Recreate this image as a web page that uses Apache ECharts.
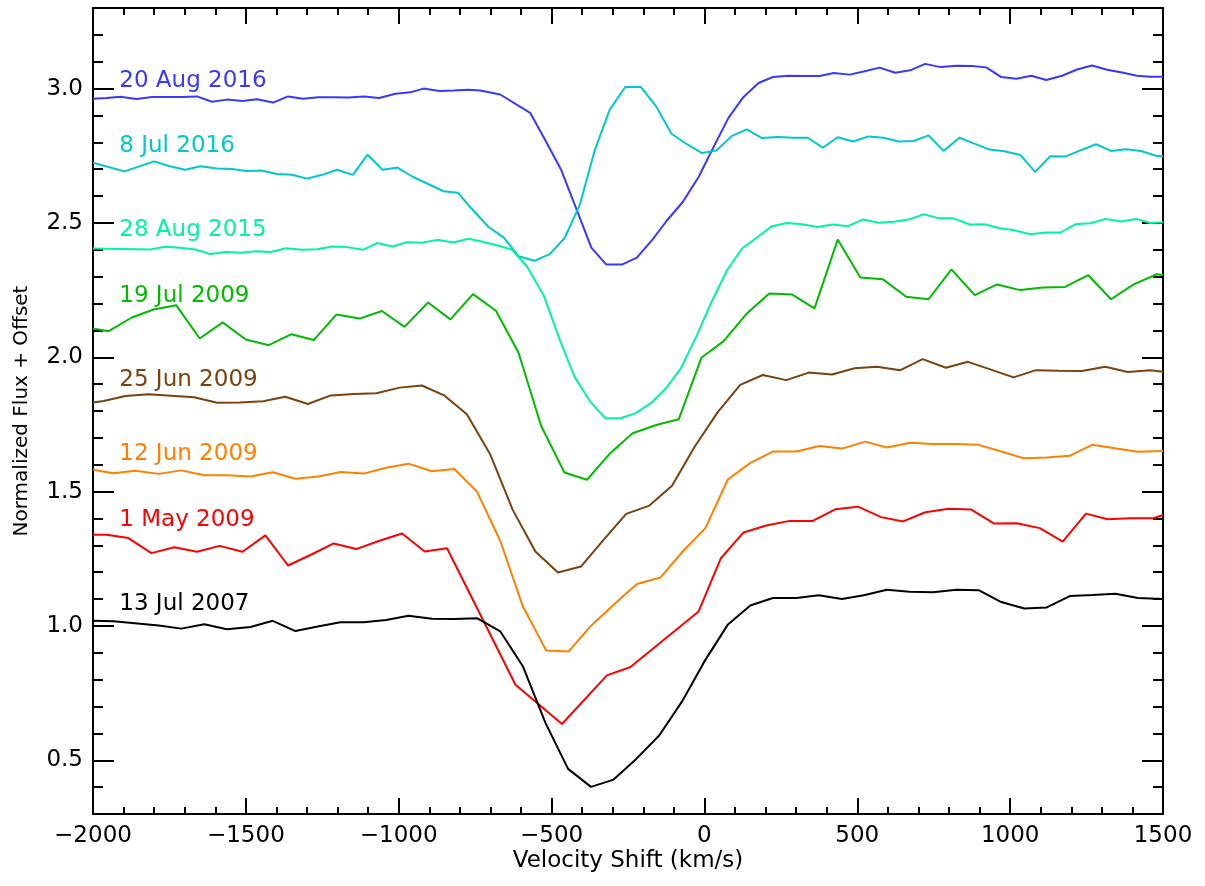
<!DOCTYPE html>
<html>
<head>
<meta charset="utf-8">
<title>Velocity Shift</title>
<script src="https://cdn.jsdelivr.net/npm/echarts@6.0.0/dist/echarts.min.js"></script>
<style>
html, body { margin: 0; padding: 0; background: #fff; }
#main { width: 1205px; height: 886px; }
</style>
</head>
<body>
<div id="main"></div>
<script>
// spectra: [velocity (km/s), normalized flux + offset]
var aug2016 = [[-2000,2.962],[-1956,2.965],[-1911,2.970],[-1858,2.961],[-1807,2.969],[-1758,2.969],[-1709,2.969],[-1660,2.971],[-1611,2.951],[-1562,2.959],[-1511,2.954],[-1464,2.960],[-1411,2.948],[-1362,2.971],[-1313,2.962],[-1264,2.968],[-1213,2.968],[-1164,2.967],[-1113,2.971],[-1064,2.965],[-1011,2.981],[-962,2.986],[-919,3.000],[-866,2.991],[-820,2.993],[-771,2.996],[-733,2.993],[-668,2.978],[-570,2.910],[-520,2.807],[-468,2.696],[-417,2.547],[-370,2.408],[-321,2.345],[-270,2.345],[-221,2.371],[-170,2.438],[-122,2.510],[-71,2.578],[-19,2.671],[30,2.783],[79,2.892],[128,2.969],[177,3.021],[224,3.043],[275,3.048],[325,3.047],[377,3.047],[423,3.058],[475,3.052],[521,3.064],[573,3.078],[624,3.059],[673,3.068],[722,3.092],[772,3.080],[826,3.085],[875,3.084],[922,3.079],[971,3.043],[1020,3.037],[1069,3.048],[1118,3.032],[1170,3.048],[1219,3.071],[1268,3.086],[1317,3.070],[1366,3.060],[1415,3.048],[1459,3.044],[1500,3.044]];

var jul2016 = [[-2000,2.724],[-1897,2.692],[-1800,2.729],[-1749,2.711],[-1698,2.698],[-1649,2.711],[-1594,2.703],[-1545,2.701],[-1499,2.693],[-1449,2.695],[-1398,2.682],[-1349,2.679],[-1300,2.665],[-1251,2.679],[-1202,2.698],[-1150,2.679],[-1102,2.754],[-1053,2.698],[-1004,2.706],[-953,2.671],[-902,2.644],[-853,2.618],[-806,2.612],[-771,2.565],[-706,2.485],[-657,2.446],[-608,2.376],[-556,2.359],[-506,2.384],[-457,2.444],[-408,2.566],[-359,2.770],[-310,2.921],[-259,3.006],[-208,3.006],[-158,2.934],[-108,2.832],[-57,2.793],[-8,2.760],[39,2.770],[90,2.824],[139,2.848],[188,2.816],[240,2.820],[289,2.817],[338,2.817],[387,2.780],[436,2.819],[486,2.803],[537,2.822],[586,2.817],[635,2.803],[684,2.805],[733,2.826],[782,2.768],[834,2.817],[883,2.795],[933,2.773],[981,2.767],[1033,2.753],[1082,2.690],[1131,2.748],[1180,2.747],[1230,2.770],[1281,2.793],[1330,2.768],[1379,2.774],[1428,2.768],[1480,2.749],[1500,2.749]];

var aug2015 = [[-2000,2.405],[-1813,2.401],[-1763,2.411],[-1714,2.408],[-1665,2.401],[-1616,2.384],[-1565,2.392],[-1518,2.389],[-1467,2.395],[-1418,2.392],[-1368,2.406],[-1316,2.400],[-1267,2.402],[-1218,2.412],[-1169,2.410],[-1117,2.400],[-1071,2.425],[-1020,2.412],[-973,2.428],[-924,2.426],[-873,2.437],[-822,2.427],[-771,2.441],[-733,2.432],[-679,2.417],[-630,2.401],[-580,2.337],[-526,2.231],[-475,2.070],[-425,1.928],[-375,1.837],[-324,1.773],[-275,1.773],[-226,1.791],[-175,1.829],[-126,1.884],[-77,1.959],[-27,2.076],[22,2.203],[74,2.324],[123,2.405],[172,2.446],[221,2.488],[270,2.500],[319,2.495],[370,2.485],[419,2.494],[470,2.488],[519,2.513],[570,2.501],[619,2.504],[668,2.513],[717,2.532],[769,2.517],[815,2.517],[868,2.494],[916,2.495],[966,2.480],[1014,2.473],[1066,2.458],[1115,2.464],[1164,2.464],[1213,2.495],[1262,2.499],[1313,2.515],[1363,2.505],[1412,2.515],[1459,2.500],[1500,2.503]];

var jul2009 = [[-2000,2.107],[-1949,2.097],[-1873,2.148],[-1802,2.178],[-1728,2.194],[-1651,2.070],[-1576,2.130],[-1500,2.066],[-1425,2.045],[-1351,2.086],[-1278,2.064],[-1204,2.159],[-1128,2.144],[-1055,2.172],[-981,2.113],[-904,2.204],[-831,2.141],[-757,2.235],[-682,2.173],[-608,2.017],[-534,1.744],[-458,1.571],[-384,1.544],[-308,1.643],[-235,1.717],[-158,1.748],[-84,1.769],[-10,1.998],[63,2.060],[139,2.163],[212,2.237],[286,2.234],[360,2.182],[436,2.438],[510,2.297],[584,2.290],[660,2.225],[733,2.216],[808,2.327],[884,2.231],[957,2.271],[1033,2.250],[1107,2.260],[1180,2.262],[1255,2.306],[1330,2.216],[1404,2.271],[1480,2.309],[1500,2.306]];

var jun25_2009 = [[-2000,1.832],[-1965,1.837],[-1894,1.856],[-1818,1.862],[-1745,1.857],[-1669,1.851],[-1594,1.831],[-1520,1.832],[-1444,1.836],[-1371,1.853],[-1297,1.826],[-1222,1.858],[-1147,1.863],[-1073,1.866],[-997,1.887],[-924,1.895],[-850,1.857],[-777,1.788],[-700,1.637],[-627,1.432],[-553,1.277],[-479,1.199],[-404,1.221],[-330,1.320],[-256,1.417],[-180,1.448],[-106,1.522],[-32,1.667],[43,1.795],[117,1.897],[191,1.934],[268,1.915],[341,1.943],[417,1.936],[491,1.959],[564,1.965],[641,1.952],[714,1.993],[790,1.961],[862,1.983],[935,1.955],[1011,1.925],[1085,1.952],[1159,1.950],[1235,1.949],[1311,1.965],[1385,1.945],[1459,1.952],[1500,1.946]];

var jun12_2009 = [[-2000,1.581],[-1933,1.568],[-1862,1.578],[-1785,1.566],[-1712,1.579],[-1635,1.561],[-1562,1.561],[-1485,1.556],[-1412,1.572],[-1338,1.548],[-1264,1.556],[-1189,1.573],[-1115,1.567],[-1041,1.589],[-968,1.604],[-891,1.576],[-818,1.584],[-744,1.500],[-668,1.317],[-594,1.073],[-518,0.909],[-444,0.905],[-370,1.002],[-297,1.079],[-221,1.156],[-144,1.180],[-71,1.277],[3,1.364],[77,1.546],[152,1.608],[224,1.649],[301,1.649],[376,1.670],[450,1.660],[526,1.686],[597,1.664],[673,1.682],[748,1.677],[821,1.677],[897,1.674],[971,1.649],[1044,1.624],[1120,1.627],[1195,1.633],[1268,1.674],[1342,1.661],[1417,1.648],[1500,1.651]];

var may2009 = [[-2000,1.339],[-1956,1.339],[-1884,1.327],[-1809,1.271],[-1734,1.293],[-1660,1.276],[-1586,1.298],[-1511,1.276],[-1436,1.337],[-1362,1.225],[-1287,1.265],[-1213,1.307],[-1139,1.286],[-1063,1.317],[-989,1.344],[-915,1.277],[-842,1.289],[-618,0.781],[-466,0.635],[-319,0.816],[-242,0.847],[-19,1.054],[54,1.252],[128,1.348],[202,1.374],[279,1.391],[354,1.391],[428,1.434],[502,1.444],[578,1.405],[650,1.389],[723,1.423],[799,1.436],[873,1.433],[948,1.381],[1022,1.382],[1097,1.364],[1172,1.314],[1248,1.418],[1319,1.397],[1393,1.401],[1469,1.401],[1500,1.413]];

var jul2007 = [[-2000,1.019],[-1933,1.017],[-1785,1.002],[-1711,0.990],[-1636,1.006],[-1562,0.988],[-1485,0.996],[-1412,1.019],[-1338,0.981],[-1265,0.998],[-1191,1.014],[-1115,1.014],[-1041,1.022],[-968,1.038],[-891,1.027],[-818,1.026],[-744,1.029],[-668,0.980],[-594,0.850],[-520,0.639],[-446,0.468],[-371,0.401],[-297,0.428],[-223,0.505],[-148,0.592],[-73,0.719],[0,0.868],[76,1.004],[150,1.076],[224,1.104],[301,1.104],[374,1.114],[450,1.100],[521,1.114],[597,1.135],[671,1.127],[748,1.125],[824,1.135],[897,1.133],[971,1.089],[1046,1.065],[1120,1.069],[1195,1.111],[1270,1.115],[1344,1.120],[1418,1.104],[1500,1.100]];

var dates = ['20 Aug 2016', '8 Jul 2016', '28 Aug 2015', '19 Jul 2009', '25 Jun 2009', '12 Jun 2009', '1 May 2009', '13 Jul 2007'];
var yMajor = [0.5, 1.0, 1.5, 2.0, 2.5, 3.0];

var FONT = 'DejaVu Sans';
var colors = ['#3838ff', '#00c8cc', '#00f5a0', '#00bb00', '#7a420e', '#ff8000', '#ff0000', '#000000'];
var spectra = [aug2016, jul2016, aug2015, jul2009, jun25_2009, jun12_2009, may2009, jul2007];
// where each date label starts (data units)
var labelPos = [[-1914, 3.028], [-1914, 2.788], [-1914, 2.473], [-1914, 2.229],
                [-1914, 1.917], [-1914, 1.639], [-1914, 1.395], [-1914, 1.083]];

var chart = echarts.init(document.getElementById('main'));

var black = { color: '#000', width: 2 };

function xAx(pos, showLabel) {
	return {
		type: 'value',
		position: pos,
		min: -2000,
		max: 1500,
		interval: 500,
		axisLine: { onZero: false, lineStyle: black },
		axisTick: { inside: true, length: 16, lineStyle: black },
		minorTick: { show: true, splitNumber: 5, length: 7, lineStyle: black },
		splitLine: { show: false },
		minorSplitLine: { show: false },
		axisLabel: {
			show: showLabel,
			fontFamily: FONT,
			fontSize: 23,
			color: '#000',
			margin: 11,
			formatter: function(v) { return v < 0 ? '\u2212' + Math.abs(v) : String(v); }
		},
		name: showLabel ? 'Velocity Shift (km/s)' : '',
		nameLocation: 'middle',
		nameGap: 36,
		nameMoveOverlap: false,
		nameTextStyle: { fontFamily: FONT, fontSize: 23, color: '#000' }
	};
}

// fine ticks every 0.1
function yMinor(pos) {
	return {
		type: 'value',
		position: pos,
		min: 0.3,
		max: 3.3,
		interval: 0.1,
		axisLine: { onZero: false, lineStyle: black },
		axisTick: { inside: true, length: 10, lineStyle: black },
		axisLabel: { show: false },
		splitLine: { show: false }
	};
}

// long ticks at the labelled values
function yMajorAx(pos, showLabel) {
	return {
		type: 'value',
		position: pos,
		min: 0.3,
		max: 3.3,
		axisLine: { show: false, onZero: false },
		axisTick: { inside: true, length: 21, lineStyle: black, customValues: yMajor },
		axisLabel: {
			show: showLabel,
			customValues: yMajor,
			fontFamily: FONT,
			fontSize: 23,
			color: '#000',
			margin: 10,
			formatter: function(v) { return v.toFixed(1); }
		},
		splitLine: { show: false },
		name: showLabel ? 'Normalized Flux + Offset' : '',
		nameLocation: 'middle',
		nameGap: 61,
		nameMoveOverlap: false,
		nameTextStyle: { fontFamily: FONT, fontSize: 20, color: '#000' }
	};
}

var series = spectra.map(function(d, i) {
	return {
		name: dates[i],
		type: 'line',
		data: d,
		xAxisIndex: 0,
		yAxisIndex: 0,
		symbol: 'none',
		lineStyle: { color: colors[i], width: 2 },
		itemStyle: { color: colors[i] },
		markPoint: {
			silent: true,
			symbolSize: 0,
			data: [{ coord: labelPos[i] }],
			label: {
				show: true,
				position: 'right',
				distance: 0,
				formatter: dates[i],
				fontFamily: FONT,
				fontSize: 23,
				color: colors[i]
			}
		}
	};
});

chart.setOption({
	animation: false,
	backgroundColor: '#fff',
	grid: { left: 93, right: 42, top: 8, bottom: 72, containLabel: false, outerBoundsMode: 'none' },
	xAxis: [xAx('bottom', true), xAx('top', false)],
	yAxis: [yMinor('left'), yMajorAx('left', true), yMinor('right'), yMajorAx('right', false)],
	series: series
});
</script>
</body>
</html>
